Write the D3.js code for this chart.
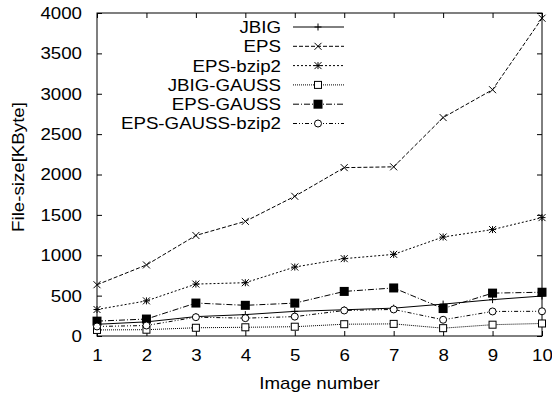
<!DOCTYPE html>
<html><head><meta charset="utf-8">
<script src="https://cdn.jsdelivr.net/npm/d3@7"></script>
<style>body{margin:0;background:#fff}text{font-family:"Liberation Sans",Arial,sans-serif;fill:#000}</style>
</head><body>
<script>
const images = [1,2,3,4,5,6,7,8,9,10];
const jbig = [145,175,240,265,305,325,345,395,450,495];
const eps = [635,880,1245,1420,1730,2085,2095,2705,3050,3935];
const epsBzip2 = [328,435,643,660,854,958,1011,1226,1318,1466];
const jbigGauss = [75,78,102,108,115,146,150,97,140,155];
const epsGauss = [184,210,408,380,407,552,595,340,531,542];
const epsGaussBzip2 = [118,130,233,221,240,316,329,201,304,306];
const yTicks = [0,500,1000,1500,2000,2500,3000,3500,4000];
const seriesNames = ["JBIG","EPS","EPS-bzip2","JBIG-GAUSS","EPS-GAUSS","EPS-GAUSS-bzip2"];
const seriesValues = [jbig, eps, epsBzip2, jbigGauss, epsGauss, epsGaussBzip2];
const dashes = [null,"4,2","2,2","1,1","6,2,1,2","4,2,1,2,1,2"];
const markers = ["plus","cross","star","square","fsquare","circle"];

const W=552,H=397, L=97, R=542, T=13, B=336;
const svg=d3.select("body").append("svg").attr("width",W).attr("height",H);
const x=d3.scaleLinear().domain([1,10]).range([L,R]);
const y=d3.scaleLinear().domain([0,4000]).range([B,T]);
const fs=17, stretch=1.1;

const gB=svg.append("g").attr("transform",`translate(0,${B})`)
  .call(d3.axisBottom(x).tickValues(images).tickFormat(d3.format("d")).tickSizeInner(-5).tickSizeOuter(0).tickPadding(14));
const gT=svg.append("g").attr("transform",`translate(0,${T})`)
  .call(d3.axisTop(x).tickValues(images).tickSizeInner(-5).tickSizeOuter(0).tickFormat(""));
const gL=svg.append("g").attr("transform",`translate(${L},0)`)
  .call(d3.axisLeft(y).tickValues(yTicks).tickFormat(d3.format("d")).tickSizeInner(-5).tickSizeOuter(0).tickPadding(14));
const gR=svg.append("g").attr("transform",`translate(${R},0)`)
  .call(d3.axisRight(y).tickValues(yTicks).tickSizeInner(-5).tickSizeOuter(0).tickFormat(""));
[gB,gT,gL,gR].forEach(g=>{g.select(".domain").remove();g.selectAll("line").attr("stroke","#000");g.selectAll("text").attr("font-size",fs).attr("font-family","Liberation Sans, Arial, sans-serif");});
gB.selectAll("text").attr("dy","0.35em").attr("y",19);
gL.selectAll("text").attr("x",-15);
svg.append("rect").attr("x",L).attr("y",T).attr("width",R-L).attr("height",B-T).attr("fill","none").attr("stroke","#000");

svg.append("text").attr("x",(L+R)/2).attr("y",389).attr("text-anchor","middle").attr("font-size",fs).text("Image number");
svg.append("text").attr("transform",`translate(24,167) rotate(-90)`).attr("text-anchor","middle").attr("font-size",fs).text("File-size[KByte]");

function marker(g,type,cx,cy){
  const s=3.5;
  if(type==="plus"||type==="star"){
    g.append("path").attr("d",`M${cx-s},${cy}H${cx+s}M${cx},${cy-s}V${cy+s}`).attr("stroke","#000").attr("fill","none");
  }
  if(type==="cross"||type==="star"){
    g.append("path").attr("d",`M${cx-s},${cy-s}L${cx+s},${cy+s}M${cx-s},${cy+s}L${cx+s},${cy-s}`).attr("stroke","#000").attr("fill","none");
  }
  if(type==="square") g.append("rect").attr("x",cx-3.5).attr("y",cy-3.5).attr("width",7).attr("height",7).attr("fill","#fff").attr("stroke","#000");
  if(type==="fsquare") g.append("rect").attr("x",cx-4.5).attr("y",cy-4.5).attr("width",9).attr("height",9).attr("fill","#000");
  if(type==="circle") g.append("circle").attr("cx",cx).attr("cy",cy).attr("r",3.5).attr("fill","#fff").attr("stroke","#000");
}

const line=d3.line().x((d,i)=>x(images[i])).y(d=>y(d));
seriesValues.forEach((vals,k)=>{
  const g=svg.append("g");
  g.append("path").datum(vals).attr("d",line).attr("fill","none").attr("stroke","#000").attr("stroke-width",1)
    .attr("stroke-dasharray",dashes[k]);
  vals.forEach((v,i)=>marker(g,markers[k],x(images[i]),y(v)));
  const ly=27+k*19.3;
  svg.append("text").attr("x",281).attr("y",ly).attr("dy","0.35em").attr("text-anchor","end").attr("font-size",fs).text(seriesNames[k]);
  g.append("line").attr("x1",293).attr("x2",344).attr("y1",ly).attr("y2",ly).attr("stroke","#000").attr("stroke-dasharray",dashes[k]);
  marker(g,markers[k],318,ly);
});

// widen glyphs to match the reference's wider typeface
svg.selectAll("text").each(function(){
  const t=d3.select(this); if(!t.text()) return;
  const len=this.getComputedTextLength();
  t.attr("textLength",len*stretch).attr("lengthAdjust","spacingAndGlyphs");
});
</script>
</body></html>
